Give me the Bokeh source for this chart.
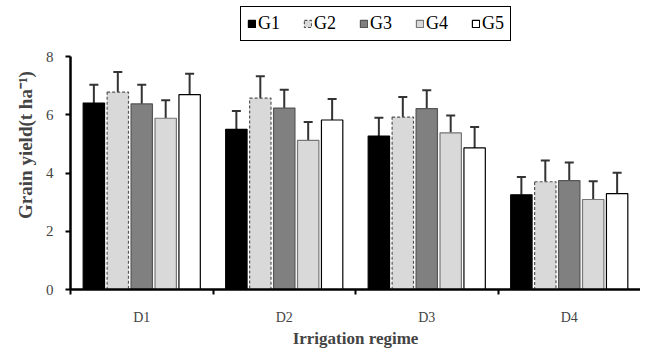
from bokeh.plotting import figure
from bokeh.models import (ColumnDataSource, Range1d, FixedTicker, Legend, LegendItem,
                          Whisker, TeeHead)
from bokeh.embed import file_html
from bokeh.resources import INLINE

groups = ["D1", "D2", "D3", "D4"]
series = ["G1", "G2", "G3", "G4", "G5"]
G1 = [6.40, 5.50, 5.27, 3.25]
G2 = [6.78, 6.57, 5.92, 3.70]
G3 = [6.37, 6.23, 6.21, 3.74]
G4 = [5.88, 5.12, 5.38, 3.09]
G5 = [6.69, 5.82, 4.86, 3.29]
E1 = [0.63, 0.63, 0.63, 0.61]
E2 = [0.69, 0.75, 0.69, 0.73]
E3 = [0.66, 0.63, 0.63, 0.62]
E4 = [0.62, 0.63, 0.59, 0.63]
E5 = [0.72, 0.72, 0.72, 0.72]
y_ticks = [0, 2, 4, 6, 8]

values = [G1, G2, G3, G4, G5]
errors = [E1, E2, E3, E4, E5]
fills = ["#000000", "#d9d9d9", "#808080", "#d9d9d9", "#ffffff"]
lines = ["#000000", "#555555", "#555555", "#777777", "#000000"]
dashes = ["solid", "3 2", "solid", "solid", "solid"]

FONT = "Liberation Serif"

# frame is taller than the 0-8 scale so the legend sits above the bars
p = figure(frame_width=570, frame_height=289, output_backend="svg", toolbar_location=None,
           x_range=Range1d(0, 4), y_range=Range1d(0, 8 + 56 / 29.125),
           min_border_left=70, min_border_right=0, min_border_top=0,
           min_border_bottom=0)
p.outline_line_color = None
p.xgrid.visible = False
p.ygrid.visible = False

step = 0.168
bw = 0.15
items = []
for k, (name, vals, errs) in enumerate(zip(series, values, errors)):
    xs = [i + 0.5 + (k - 2) * step for i in range(len(groups))]
    src = ColumnDataSource(dict(x=xs, top=vals, up=[v + e for v, e in zip(vals, errs)]))
    r = p.vbar(x="x", top="top", width=bw, bottom=0, source=src,
               fill_color=fills[k], line_color=lines[k], line_width=1.2,
               line_dash=dashes[k])
    w = Whisker(base="x", lower="top", upper="up", source=src, dimension="height",
                line_color="#333333", line_width=2, lower_head=None,
                upper_head=TeeHead(size=9, line_color="#333333", line_width=2))
    p.add_layout(w)
    items.append(LegendItem(label=name, renderers=[r]))

legend = Legend(items=items, orientation="horizontal", location=(170, 248),
                label_text_font=FONT, label_text_font_size="18px",
                label_text_color="black",
                glyph_width=9, glyph_height=9, label_standoff=2, spacing=23,
                padding=6, margin=0, border_line_color="black", border_line_alpha=1.0,
                border_line_width=1.5, background_fill_alpha=1.0,
                label_height=14)
p.add_layout(legend, "center")

# x axis
p.xaxis.ticker = FixedTicker(ticks=[i + 0.5 for i in range(len(groups))],
                             minor_ticks=list(range(len(groups))))
p.xaxis.major_label_overrides = {i + 0.5: g for i, g in enumerate(groups)}
p.xaxis.major_tick_out = 0
p.xaxis.major_tick_in = 0
p.xaxis.minor_tick_out = 5
p.xaxis.minor_tick_in = 0
p.xaxis.minor_tick_line_width = 2
p.xaxis.axis_line_width = 2.5
p.xaxis.major_label_standoff = 15
p.xaxis.major_label_text_font = FONT
p.xaxis.major_label_text_font_size = "14px"
p.xaxis.axis_label = "Irrigation regime"
p.xaxis.axis_label_text_font = FONT
p.xaxis.axis_label_text_font_style = "bold"
p.xaxis.axis_label_text_font_size = "17px"
p.xaxis.axis_label_standoff = 1

# y axis
p.yaxis.ticker = FixedTicker(ticks=y_ticks)
p.yaxis.bounds = (0, 8)
p.yaxis.minor_tick_line_color = None
p.yaxis.major_tick_out = 5
p.yaxis.major_tick_in = 0
p.yaxis.major_tick_line_width = 2
p.yaxis.axis_line_width = 2.5
p.yaxis.major_label_standoff = 12
p.yaxis.major_label_text_font = FONT
p.yaxis.major_label_text_font_size = "15px"
p.yaxis.axis_label = "Grain yield(t ha\u207b\u00b9)"
p.yaxis.axis_label_text_font = FONT
p.yaxis.axis_label_text_font_style = "bold"
p.yaxis.axis_label_text_font_size = "19px"
p.yaxis.axis_label_standoff = 7

open("out.html", "w").write(file_html(p, INLINE))
